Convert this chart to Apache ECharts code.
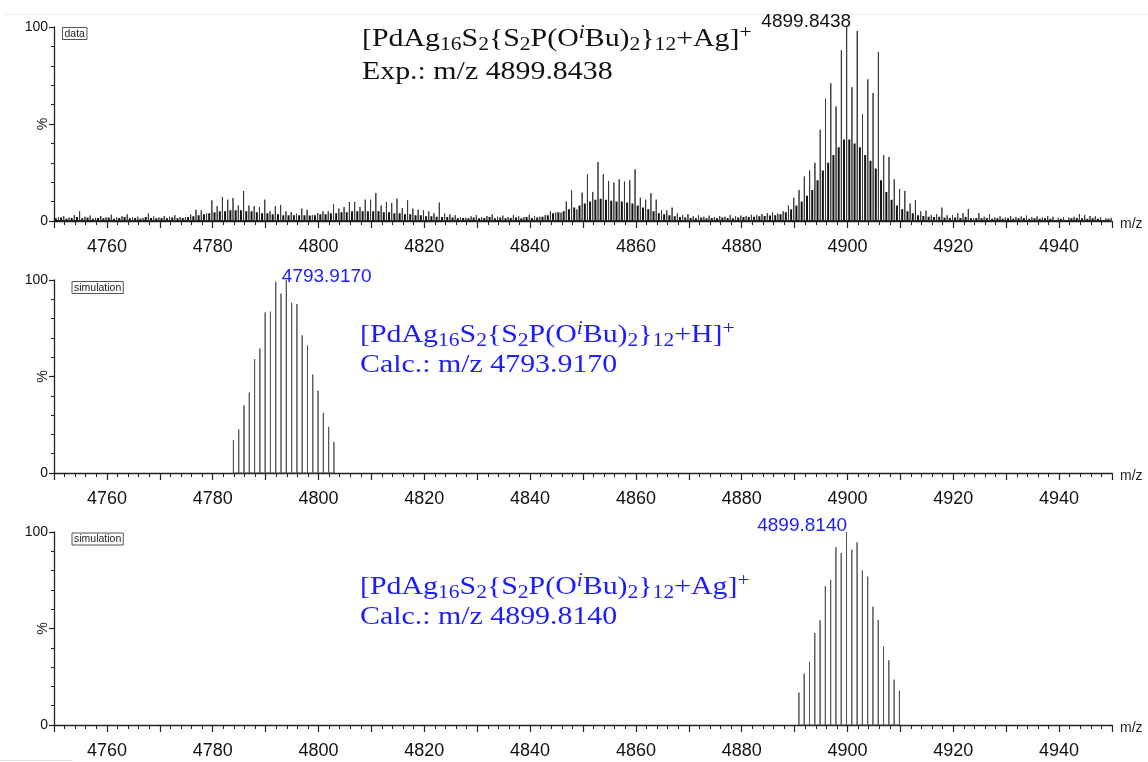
<!DOCTYPE html>
<html><head><meta charset="utf-8">
<script src="https://cdn.jsdelivr.net/npm/echarts@6/dist/echarts.min.js"></script>
<style>html,body{margin:0;padding:0;background:#fff}#c{width:1148px;height:762px}</style>
</head><body><div id="c"></div>
<script>
// ---------- DATA ----------
const xTickLabels = [4760, 4780, 4800, 4820, 4840, 4860, 4880, 4900, 4920, 4940];
const yTickLabels = [0, 100];

// Experimental spectrum: main isotope peaks at nominal mass n + 0.84 (n = 4750..4949)
const expMainMzStart = 4750.84;
const expMain = [
  2.0, 2.5, 1.8, 3.0, 5.0, 2.2, 2.8, 1.6, 2.6, 2.0,
  3.2, 1.8, 2.4, 3.4, 2.0, 2.2, 1.6, 3.8, 2.4, 1.8,
  2.6, 2.2, 3.0, 2.0, 2.0, 3.3, 5.8, 5.5, 4.0, 10.6,
  7.6, 12.4, 11.0, 11.8, 8.0, 15.5, 8.0, 7.7, 7.2, 11.0,
  5.0, 7.7, 8.2, 5.0, 4.6, 3.8, 6.4, 5.8, 3.0, 4.0,
  5.0, 5.0, 8.6, 6.4, 7.2, 9.8, 9.8, 7.2, 11.0, 11.0,
  14.4, 8.0, 9.8, 9.3, 11.5, 6.7, 10.6, 6.4, 5.8, 5.5,
  5.0, 4.0, 9.5, 3.8, 3.4, 3.0, 2.0, 1.7, 2.4, 3.0,
  2.0, 2.6, 3.4, 2.2, 2.8, 2.0, 3.0, 2.4, 2.0, 3.2,
  2.6, 2.2, 3.0, 5.0, 4.3, 4.3, 10.0, 15.8, 6.0, 14.6,
  24.0, 15.0, 30.4, 24.0, 20.6, 19.8, 21.5, 20.3, 21.0, 26.6,
  12.0, 11.0, 14.3, 11.0, 5.5, 5.5, 6.9, 4.0, 3.0, 3.6,
  2.4, 3.0, 2.2, 2.8, 2.0, 2.6, 2.2, 3.0, 2.4, 2.8,
  2.6, 3.2, 3.0, 3.6, 4.0, 4.4, 3.8, 5.0, 8.0, 12.0,
  16.0, 23.0, 26.0, 30.0, 47.0, 63.0, 71.0, 59.0, 88.0, 100,
  69.0, 98.0, 55.0, 73.0, 66.0, 87.0, 34.0, 33.0, 21.5, 16.5,
  15.5, 9.0, 10.8, 5.0, 5.3, 3.0, 3.6, 6.9, 3.0, 3.0,
  4.0, 4.0, 6.2, 1.4, 4.0, 2.2, 3.4, 1.9, 2.4, 1.8,
  2.6, 2.0, 2.4, 2.8, 2.0, 2.4, 1.8, 2.6, 2.2, 1.6,
  2.0, 1.8, 2.2, 3.6, 3.0, 2.6, 2.4, 1.8, 1.4, 1.6
];
// Experimental spectrum: satellite peaks between isotopes at n + 0.34
const expSatMzStart = 4750.34;
const expSat = [
  1.4, 1.8, 1.2, 1.6, 2.0, 1.4, 1.8, 1.2, 1.6, 1.4,
  1.8, 1.2, 1.6, 2.0, 1.4, 1.6, 1.2, 2.0, 1.6, 1.4,
  1.6, 1.4, 1.8, 1.4, 1.6, 2.0, 2.5, 3.0, 3.5, 4.0,
  4.5, 5.0, 5.0, 5.5, 5.5, 5.5, 5.0, 5.0, 4.5, 4.0,
  4.0, 3.5, 3.5, 3.0, 3.0, 3.0, 3.0, 3.0, 2.8, 3.0,
  3.5, 3.5, 4.0, 4.0, 4.5, 4.5, 5.0, 5.0, 5.0, 5.0,
  5.0, 5.0, 4.5, 4.5, 4.0, 4.0, 3.5, 3.5, 3.0, 3.0,
  2.5, 2.5, 2.2, 2.0, 2.0, 1.8, 1.4, 1.6, 1.4, 1.8,
  1.4, 1.6, 2.0, 1.4, 1.8, 1.4, 1.6, 1.8, 1.4, 2.0,
  1.6, 1.8, 2.2, 3.0, 4.0, 4.5, 5.0, 6.0, 7.0, 8.0,
  9.0, 10.0, 11.0, 11.5, 11.0, 10.5, 10.0, 10.0, 9.5, 9.0,
  8.0, 7.0, 6.0, 5.0, 4.0, 3.5, 3.0, 2.4, 2.0, 1.8,
  1.6, 1.4, 1.8, 1.4, 1.6, 1.4, 1.8, 1.6, 1.4, 1.8,
  2.0, 2.0, 2.2, 2.4, 2.6, 2.8, 3.0, 3.5, 4.5, 6.0,
  8.0, 10.0, 13.0, 16.0, 21.0, 26.0, 30.0, 34.0, 38.0, 42.0,
  42.0, 40.0, 38.0, 34.0, 31.0, 27.0, 21.0, 15.0, 11.0, 8.0,
  6.0, 5.0, 4.0, 3.0, 2.6, 2.2, 2.0, 2.2, 1.8, 1.6,
  1.8, 1.6, 2.0, 1.4, 1.6, 1.4, 1.6, 1.2, 1.4, 1.2,
  1.4, 1.2, 1.4, 1.6, 1.2, 1.4, 1.2, 1.4, 1.2, 1.0,
  1.2, 1.0, 1.4, 1.6, 1.4, 1.2, 1.4, 1.2, 1.0, 1.2
];
const expPeakMz = 4899.8438, expPeakY = 100;

// Simulation [..+H]+
const simHMz = [4783.917, 4784.917, 4785.917, 4786.917, 4787.917, 4788.917, 4789.917, 4790.917, 4791.917, 4792.917,
                4793.917, 4794.917, 4795.917, 4796.917, 4797.917, 4798.917, 4799.917, 4800.917, 4801.917, 4802.917];
const simH = [17, 22.5, 35, 41.7, 59, 64.5, 83.2, 83.6, 99.1, 92.9, 100, 88.2, 87.5, 71.3, 66.1, 51, 42.6, 31.1, 23.9, 16.1];
const simHPeakMz = 4793.9170, simHPeakY = 100;

// Simulation [..+Ag]+
const simAgMz = [4890.814, 4891.814, 4892.814, 4893.814, 4894.814, 4895.814, 4896.814, 4897.814, 4898.814, 4899.814,
                 4900.814, 4901.814, 4902.814, 4903.814, 4904.814, 4905.814, 4906.814, 4907.814, 4908.814, 4909.814];
const simAg = [16.8, 26.6, 32.8, 47.7, 54.2, 72, 75.1, 92.1, 89.1, 100, 90.8, 94.6, 80.1, 76.9, 61.3, 54.4, 40.6, 33.5, 23.5, 17.8];
const simAgPeakMz = 4899.8140, simAgPeakY = 100;

// ---------- CHART ----------
const FONT = '"Liberation Sans", Arial, sans-serif';
const SERIF = '"Liberation Serif", "Times New Roman", serif';
const BLUE = '#1c1cff';

function sticks(mzs, hs) {
  const d = [];
  for (let i = 0; i < hs.length; i++) { d.push([mzs[i], 0], [mzs[i], hs[i]], [mzs[i], 0]); }
  return d;
}
const expMainMz = expMain.map((_, i) => +(expMainMzStart + i).toFixed(2));
const expSatMz = expSat.map((_, i) => +(expSatMzStart + i).toFixed(2));

const grids = [
  {left: 54, top: 27, width: 1058, height: 194, outerBoundsMode: 'none', containLabel: false},
  {left: 54, top: 280, width: 1058, height: 193, outerBoundsMode: 'none', containLabel: false},
  {left: 54, top: 532, width: 1058, height: 193, outerBoundsMode: 'none', containLabel: false}
];
function xAx(gi) {
  return {
    gridIndex: gi, type: 'value', min: 4750, max: 4950, interval: 10,
    axisLine: {show: true, onZero: false, lineStyle: {color: '#222', width: 1.3}},
    axisTick: {show: true, length: 7, lineStyle: {color: '#222', width: 1.2}},
    minorTick: {show: true, splitNumber: 5, length: 4, lineStyle: {color: '#222', width: 1}},
    splitLine: {show: false}, minorSplitLine: {show: false},
    axisLabel: {show: true, margin: 17, fontSize: 18, fontFamily: FONT, color: '#111',
      formatter: v => xTickLabels.includes(v) ? String(v) : ''},
    name: 'm/z', nameLocation: 'end', nameGap: 8, nameMoveOverlap: false,
    nameTextStyle: {fontSize: 14, fontFamily: FONT, color: '#222', verticalAlign: 'top', lineHeight: 7}
  };
}
function yAx(gi) {
  return {
    gridIndex: gi, type: 'value', min: 0, max: 100, interval: 50,
    axisLine: {show: true, onZero: false, lineStyle: {color: '#222', width: 1.3}},
    axisTick: {show: true, length: 5, lineStyle: {color: '#222', width: 1.2}},
    minorTick: {show: true, splitNumber: 5, length: 3, lineStyle: {color: '#222', width: 1}},
    splitLine: {show: false}, minorSplitLine: {show: false},
    axisLabel: {margin: 6, fontSize: 14, fontFamily: FONT, color: '#111',
      formatter: v => yTickLabels.includes(v) ? String(v) : ''},
    name: '%', nameLocation: 'middle', nameRotate: 90, nameGap: 4, nameMoveOverlap: false,
    nameTextStyle: {fontSize: 14, fontFamily: FONT, color: '#222'}
  };
}
function stickSeries(gi, data, color, width) {
  return {type: 'line', xAxisIndex: gi, yAxisIndex: gi, data: data, symbol: 'none', silent: true,
    lineStyle: {color: color, width: width}, animation: false, clip: true, z: 2};
}
function labelSeries(gi, mz, y, color, pos, align) {
  return {type: 'scatter', xAxisIndex: gi, yAxisIndex: gi, data: [[mz, y]], symbolSize: 1, clip: false,
    itemStyle: {color: 'rgba(0,0,0,0)', opacity: 1}, silent: true, animation: false, z: 5,
    label: {show: true, position: pos, align: align, verticalAlign: 'middle', fontSize: 19, fontFamily: FONT,
      color: color, opacity: 1, formatter: p => p.value[0].toFixed(4)}};
}
function rich(color) {
  return {
    s: {fontSize: 18, fontFamily: SERIF, lineHeight: 15, verticalAlign: 'bottom', fill: color},
    p: {fontSize: 18, fontFamily: SERIF, lineHeight: 18, verticalAlign: 'top', fill: color},
    pi: {fontSize: 18, fontFamily: SERIF, fontStyle: 'italic', lineHeight: 18, verticalAlign: 'top', fill: color}
  };
}
function formula(x, top, text, color) {
  return {type: 'text', x: x, y: top, scaleX: 1.195, z: 10, silent: true,
    style: {text: text, fontSize: 25, fontFamily: SERIF, lineHeight: 30, fill: color, verticalAlign: 'top', rich: rich(color)}};
}
function plainLine(x, cy, text, color) {
  return {type: 'text', x: x, y: cy, scaleX: 1.195, z: 10, silent: true,
    style: {text: text, fontSize: 25, fontFamily: SERIF, fill: color, verticalAlign: 'middle'}};
}
function box(x, y, text) {
  return {type: 'text', x: x, y: y, z: 10, silent: true,
    style: {text: text, fontSize: 10.5, fontFamily: FONT, fill: '#222', verticalAlign: 'top',
      borderColor: '#555', borderWidth: 1, padding: [1, 2, 0, 2], lineHeight: 11}};
}

const f1 = '[PdAg{s|16}S{s|2}{S{s|2}P(O{pi|i}Bu){s|2}}{s|12}+Ag]{p|+}';
const f2 = '[PdAg{s|16}S{s|2}{S{s|2}P(O{pi|i}Bu){s|2}}{s|12}+H]{p|+}';

const option = {
  backgroundColor: '#fff',
  animation: false,
  grid: grids,
  xAxis: [xAx(0), xAx(1), xAx(2)],
  yAxis: [yAx(0), yAx(1), yAx(2)],
  series: [
    stickSeries(0, sticks(expSatMz, expSat), '#111', 2),
    stickSeries(0, sticks(expMainMz, expMain), '#3a3a3a', 1),
    stickSeries(1, sticks(simHMz, simH), '#555', 1),
    stickSeries(2, sticks(simAgMz, simAg), '#555', 1),
    labelSeries(0, expPeakMz, expPeakY, '#111', [5, -5], 'right'),
    labelSeries(1, simHPeakMz, simHPeakY, BLUE, [-4, -3], 'left'),
    labelSeries(2, simAgPeakMz, simAgPeakY, BLUE, [1, -5.5], 'right')
  ],
  graphic: {elements: [
    {type: 'line', silent: true, shape: {x1: 5, y1: 14.5, x2: 1148, y2: 14.5}, style: {stroke: '#ececec', lineWidth: 1}},
    {type: 'line', silent: true, shape: {x1: 0, y1: 760.5, x2: 73, y2: 760.5}, style: {stroke: '#dddddd', lineWidth: 1}},
    box(62.5, 27.5, 'data'),
    box(72, 281.5, 'simulation'),
    box(72, 533, 'simulation'),
    formula(362, 24.7, f1, '#111'),
    plainLine(362, 72.4, 'Exp.: m/z ' + expPeakMz.toFixed(4), '#111'),
    formula(360, 320.7, f2, BLUE),
    plainLine(360, 365.7, 'Calc.: m/z ' + simHPeakMz.toFixed(4), BLUE),
    formula(360, 572.7, f1, BLUE),
    plainLine(360, 617.7, 'Calc.: m/z ' + simAgPeakMz.toFixed(4), BLUE)
  ]}
};
const chart = echarts.init(document.getElementById('c'));
chart.setOption(option);
</script>
</body></html>
